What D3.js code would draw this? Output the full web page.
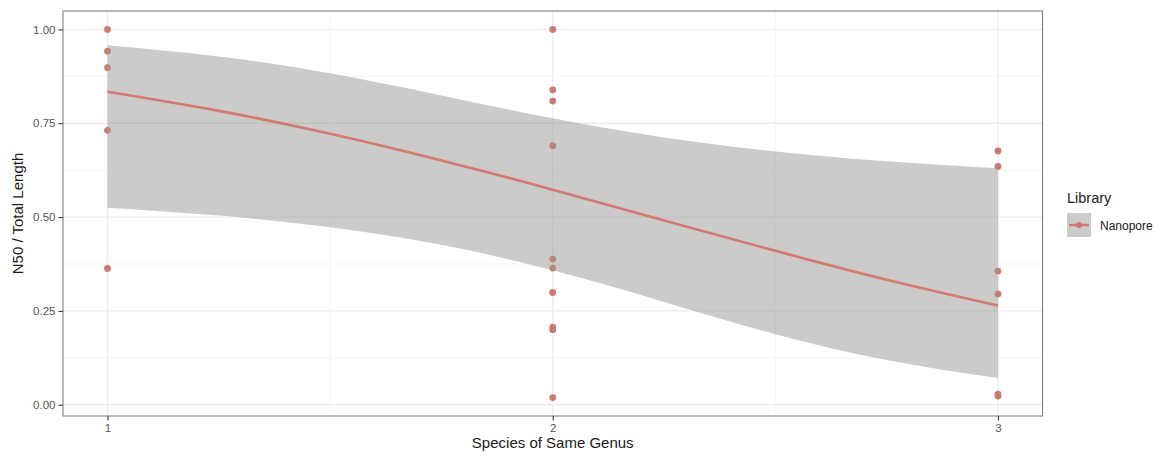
<!DOCTYPE html>
<html>
<head>
<meta charset="utf-8">
<script src="https://cdn.jsdelivr.net/npm/d3@7"></script>
<style>
  html, body { margin: 0; padding: 0; background: #ffffff; }
  svg { display: block; font-family: "Liberation Sans", Arial, Helvetica, sans-serif; }
</style>
</head>
<body>
<svg id="chart" width="1165" height="458"></svg>
<script>
// Observed ratios, grouped by number of species of the same genus
const speciesCounts = [1, 2, 3];
const pointsAt1 = [1.000, 0.942, 0.898, 0.731, 0.363];
const pointsAt2 = [1.000, 0.839, 0.809, 0.690, 0.388, 0.364, 0.299, 0.207, 0.200, 0.019];
const pointsAt3 = [0.676, 0.635, 0.356, 0.295, 0.028, 0.023];

// Fitted trend with its confidence band
const fitX     = [1.00, 1.25, 1.50, 1.75, 2.00, 2.25, 2.50, 2.75, 3.00];
const fitY     = [0.834, 0.783, 0.722, 0.651, 0.573, 0.491, 0.410, 0.333, 0.264];
const fitLower = [0.525, 0.504, 0.473, 0.426, 0.358, 0.274, 0.188, 0.119, 0.071];
const fitUpper = [0.958, 0.928, 0.883, 0.824, 0.763, 0.712, 0.675, 0.649, 0.630];

const yTicks = [0, 0.25, 0.5, 0.75, 1];
const yTickLabels = ["0.00", "0.25", "0.50", "0.75", "1.00"];
const yMinor = [0.125, 0.375, 0.625, 0.875];
const xMinor = [1.5, 2.5];

const xTitle = "Species of Same Genus";
const yTitle = "N50 / Total Length";
const legendTitle = "Library";
const seriesName = "Nanopore";

const pointColor = "#cc7a6f";
const lineColor = "#d27a6e";
const ribbonFill = "#9a9893";

const points = [
  ...pointsAt1.map(v => ({x: speciesCounts[0], y: v})),
  ...pointsAt2.map(v => ({x: speciesCounts[1], y: v})),
  ...pointsAt3.map(v => ({x: speciesCounts[2], y: v}))
];
const fit = fitX.map((x, i) => ({x, y: fitY[i], lo: fitLower[i], hi: fitUpper[i]}));

const panel = {left: 63, right: 1042.5, top: 11, bottom: 416};

// Scale limits with 5% padding on each side
const xExt = d3.extent(speciesCounts);
const xPad = (xExt[1] - xExt[0]) * 0.05;
const allY = points.map(d => d.y).concat(fitLower, fitUpper);
const yExt = d3.extent(allY);
const yPad = (yExt[1] - yExt[0]) * 0.05;

const x = d3.scaleLinear().domain([xExt[0] - xPad, xExt[1] + xPad]).range([panel.left, panel.right]);
const y = d3.scaleLinear().domain([yExt[0] - yPad, yExt[1] + yPad]).range([panel.bottom, panel.top]);

const svg = d3.select("#chart");

// Panel background
svg.append("rect")
  .attr("x", panel.left).attr("y", panel.top)
  .attr("width", panel.right - panel.left).attr("height", panel.bottom - panel.top)
  .attr("fill", "#ffffff");

const grid = svg.append("g");
// Minor grid
grid.selectAll("line.ymin").data(yMinor).join("line")
  .attr("x1", panel.left).attr("x2", panel.right)
  .attr("y1", d => y(d)).attr("y2", d => y(d))
  .attr("stroke", "#f0f0f0").attr("stroke-width", 0.7);
grid.selectAll("line.xmin").data(xMinor).join("line")
  .attr("y1", panel.top).attr("y2", panel.bottom)
  .attr("x1", d => x(d)).attr("x2", d => x(d))
  .attr("stroke", "#f0f0f0").attr("stroke-width", 0.7);
// Major grid
grid.selectAll("line.ymaj").data(yTicks).join("line")
  .attr("x1", panel.left).attr("x2", panel.right)
  .attr("y1", d => y(d)).attr("y2", d => y(d))
  .attr("stroke", "#ebebeb").attr("stroke-width", 1.3);
grid.selectAll("line.xmaj").data(speciesCounts).join("line")
  .attr("y1", panel.top).attr("y2", panel.bottom)
  .attr("x1", d => x(d)).attr("x2", d => x(d))
  .attr("stroke", "#ebebeb").attr("stroke-width", 1.3);

// Points
svg.append("g").selectAll("circle").data(points).join("circle")
  .attr("cx", d => x(d.x)).attr("cy", d => y(d.y))
  .attr("r", 3.4).attr("fill", pointColor);

// Confidence band drawn over the points
const area = d3.area()
  .x(d => x(d.x)).y0(d => y(d.lo)).y1(d => y(d.hi))
  .curve(d3.curveNatural);
svg.append("path").datum(fit)
  .attr("d", area)
  .attr("fill", ribbonFill).attr("fill-opacity", 0.5);

// Trend line
const line = d3.line().x(d => x(d.x)).y(d => y(d.y)).curve(d3.curveNatural);
svg.append("path").datum(fit)
  .attr("d", line)
  .attr("fill", "none").attr("stroke", lineColor).attr("stroke-width", 2.6);

// Panel border
svg.append("rect")
  .attr("x", panel.left).attr("y", panel.top)
  .attr("width", panel.right - panel.left).attr("height", panel.bottom - panel.top)
  .attr("fill", "none").attr("stroke", "#808080").attr("stroke-width", 1.1);

// Axes
const yAxis = d3.axisLeft(y).tickValues(yTicks)
  .tickFormat((d, i) => yTickLabels[i]).tickSizeInner(4.5).tickSizeOuter(0).tickPadding(3);
const gy = svg.append("g").attr("transform", `translate(${panel.left},0)`).call(yAxis);
const xAxis = d3.axisBottom(x).tickValues(speciesCounts)
  .tickFormat(d3.format("d")).tickSizeInner(4.5).tickSizeOuter(0).tickPadding(3);
const gx = svg.append("g").attr("transform", `translate(0,${panel.bottom})`).call(xAxis);
[gx, gy].forEach(g => {
  g.attr("color", "#555555");
  g.select(".domain").remove();
  g.selectAll(".tick line").attr("stroke", "#333333").attr("stroke-width", 1.1);
  g.selectAll(".tick text").attr("fill", "#555555")
    .style("font-size", "11.5px").style("font-family", "'Liberation Sans', Arial, sans-serif");
});

// Axis titles
svg.append("text")
  .attr("x", (panel.left + panel.right) / 2).attr("y", 448)
  .attr("text-anchor", "middle").attr("fill", "#1a1a1a")
  .style("font-size", "15px").text(xTitle);
svg.append("text")
  .attr("transform", `translate(23,${(panel.top + panel.bottom) / 2}) rotate(-90)`)
  .attr("text-anchor", "middle").attr("fill", "#1a1a1a")
  .style("font-size", "15px").text(yTitle);

// Legend
const lg = svg.append("g").attr("transform", "translate(1067,0)");
lg.append("text").attr("x", 0).attr("y", 203)
  .attr("fill", "#1a1a1a").style("font-size", "14.5px").text(legendTitle);
lg.append("rect").attr("x", 0).attr("y", 213).attr("width", 24).attr("height", 24)
  .attr("fill", ribbonFill).attr("fill-opacity", 0.5);
lg.append("line").attr("x1", 2).attr("x2", 22).attr("y1", 225).attr("y2", 225)
  .attr("stroke", lineColor).attr("stroke-width", 2.4);
lg.append("circle").attr("cx", 12).attr("cy", 225).attr("r", 3).attr("fill", pointColor);
lg.append("text").attr("x", 33).attr("y", 229.5)
  .attr("fill", "#1a1a1a").style("font-size", "12px").text(seriesName);
</script>
</body>
</html>
